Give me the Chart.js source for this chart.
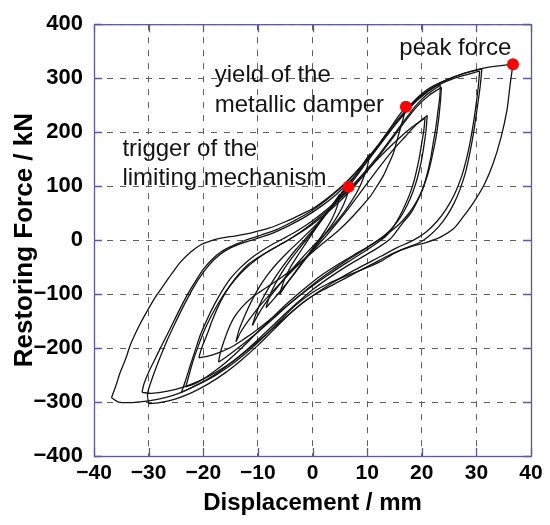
<!DOCTYPE html>
<html>
<head>
<meta charset="utf-8">
<script src="https://cdn.jsdelivr.net/npm/chart.js@4/dist/chart.umd.min.js"></script>
<style>
  html, body { margin: 0; padding: 0; background: #fff; }
  canvas { display: block; }
</style>
</head>
<body>
<canvas id="hyst" width="550" height="525"></canvas>
<script>
// Hysteresis loops, displacement (mm) vs restoring force (kN).
// Every loop is split at its reversal points: *_down = unloading from the + tip, *_up = reloading.
const A_down = [[36.7,326],[36.2,290],[35.6,241],[34.5,190],[33.1,143],[31.4,102],[29.5,70],[27.5,42],[25.8,21],[23.5,6],[20.9,-4],[18,-12],[15,-24],[12.4,-40],[9,-55],[6.3,-66],[3,-80],[0,-97],[-3,-120],[-6,-150],[-9,-180],[-12,-208],[-15,-232],[-18,-252],[-21,-268],[-24,-282],[-27,-292],[-30,-298],[-33,-301],[-35.5,-300],[-36.8,-292]];
const A_up = [[-36.8,-292],[-36,-270],[-35.2,-245],[-34.2,-220],[-33.3,-193],[-31.8,-160],[-30.3,-132],[-28.8,-106],[-27.2,-83],[-25.6,-60],[-24.1,-40],[-22.3,-22],[-20.5,-9],[-18.5,-1],[-16.5,4],[-14,8],[-11,14],[-8,22],[-5,34],[-2,48],[0,58],[3,80],[6,106],[9,138],[12,176],[14.5,210],[17,240],[19,262],[21.5,282],[24.5,297],[28,310],[32,320],[36.7,326]];

const B1_down = [[31,317],[30.7,285],[30.1,241],[29.5,200],[28.8,161],[28,125],[27,94],[25.9,68],[24.6,45],[23.1,25],[21.5,9],[19.7,-4],[17,-15],[14,-28],[11,-44],[8,-60],[5,-76],[2,-92],[-1,-110],[-4,-135],[-7,-165],[-10,-195],[-13,-222],[-16,-246],[-19,-266],[-22,-282],[-25,-294],[-28,-301],[-30,-303]];
const B1_up = [[-30,-303],[-30.2,-285],[-29.3,-255],[-28.2,-225],[-26.8,-190],[-25.2,-155],[-23.5,-120],[-21.8,-88],[-20,-60],[-18,-36],[-16,-20],[-13.5,-8],[-10.5,2],[-7.5,12],[-4.5,26],[-1.5,42],[1.5,62],[4.5,86],[7.5,116],[10.5,152],[13.5,192],[16,225],[18.5,255],[21,276],[24,294],[27.5,308],[31,317]];

const B2_down = [[30.6,313],[30.3,280],[29.8,240],[29.1,195],[28.3,155],[27.3,118],[26,85],[24.5,58],[22.8,35],[20.8,15],[18.5,0],[15.5,-14],[12.5,-30],[9.5,-46],[6.5,-62],[3.5,-80],[0.5,-100],[-2.5,-122],[-5.5,-148],[-8.5,-175],[-11.5,-200],[-14.5,-224],[-17.5,-244],[-20.5,-260],[-23.5,-272],[-26.5,-280],[-29.5,-284],[-31.2,-282]];
const B2_up = [[-31.2,-282],[-30.9,-268],[-30,-245],[-29,-224],[-27.5,-193],[-26,-163],[-24.5,-132],[-22.9,-101],[-21.4,-76],[-19.9,-53],[-18.3,-35],[-16.8,-22],[-15,-12],[-13.1,-4],[-11.3,3],[-9.5,9],[-6.5,20],[-3.5,35],[-0.5,52],[2.5,74],[5.5,100],[8.5,132],[11.5,168],[14.5,206],[17,236],[19.5,262],[22.5,284],[26,300],[30.6,313]];

const C1_down = [[23.4,287],[23.3,265],[23,241],[22.6,210],[22.1,180],[21.6,150],[20.9,119],[20.1,93],[19.1,70],[18,50],[16.6,33],[15.5,18],[14.2,2],[12,-14],[9,-32],[6,-50],[3,-70],[0,-92],[-3,-118],[-6,-146],[-9,-175],[-12,-203],[-15,-228],[-18,-250],[-20.5,-265],[-22.5,-275],[-24,-282]];
const C1_up = [[-24,-282],[-23.3,-262],[-22.3,-230],[-21.4,-202],[-20.5,-175],[-19.3,-147],[-18,-120],[-16.6,-95],[-15,-71],[-13.2,-51],[-11.3,-34],[-9.5,-21],[-7.7,-10],[-5.5,2],[-3,16],[0,36],[3,60],[6,88],[9,120],[12,156],[14.5,190],[17,224],[19,250],[21,270],[23.4,287]];

const C2_down = [[23.6,283],[23.4,255],[23.1,225],[22.6,190],[21.9,155],[21.2,125],[20.3,98],[19.2,74],[17.9,53],[16.4,35],[14.8,20],[13,6],[10.5,-10],[7.5,-28],[4.5,-46],[1.5,-66],[-1.5,-90],[-4.5,-116],[-7.5,-145],[-10.5,-175],[-13.5,-205],[-16.5,-232],[-19.5,-254],[-21.5,-266],[-23.2,-272]];
const C2_up = [[-23.2,-272],[-22.6,-250],[-21.8,-222],[-20.9,-196],[-19.9,-170],[-18.7,-144],[-17.3,-118],[-15.8,-94],[-14.1,-72],[-12.3,-53],[-10.4,-37],[-8.4,-23],[-6.2,-10],[-3.8,4],[-1,22],[2,45],[5,72],[8,104],[11,140],[14,180],[16.5,214],[19,246],[21.3,268],[23.6,283]];

const D1_down = [[20.6,226],[20.4,205],[20,180],[19.6,155],[19.1,131],[18.6,110],[17.9,88],[17,66],[16,45],[14.9,26],[13.6,9],[12,-4],[10,-18],[7.5,-34],[5,-50],[2.5,-67],[0,-85],[-2.5,-104],[-5,-125],[-7.5,-145],[-10,-165],[-12.5,-183],[-15,-199],[-17.5,-210],[-19.5,-216],[-20.8,-218]];
const D1_up = [[-20.8,-218],[-20.3,-200],[-19.3,-175],[-18.4,-150],[-17.4,-126],[-16.3,-104],[-15,-83],[-13.5,-63],[-11.9,-46],[-10.1,-33],[-8.3,-22],[-6.2,-10],[-4,3],[-1.5,20],[1,40],[3.5,62],[6,86],[8.5,112],[11,140],[13.5,166],[16,190],[18.3,210],[20.6,226]];

const D2_down = [[21,231],[20.8,205],[20.4,175],[19.9,145],[19.2,115],[18.4,90],[17.4,66],[16.2,44],[14.8,25],[13.2,9],[11.2,-6],[8.8,-22],[6.2,-38],[3.6,-56],[1,-75],[-1.6,-96],[-4.2,-118],[-6.8,-142],[-9.4,-165],[-12,-187],[-14.4,-206],[-16,-218],[-17.2,-226]];
const D2_up = [[-17.2,-226],[-16.9,-210],[-16.2,-187],[-15.4,-165],[-14.4,-144],[-13,-125],[-11.3,-108],[-9.5,-95],[-7.7,-83],[-5.5,-68],[-3,-48],[-0.5,-25],[2,2],[4.5,32],[7,64],[9.5,98],[12,132],[14.5,164],[17,192],[19,214],[21,231]];

const E_down = [[17.1,247],[16.6,225],[16,204],[15.4,182],[14.8,161],[13.9,140],[13,120],[11.8,100],[10.5,80],[8.8,60],[7,40],[5,20],[3,3],[0.5,-18],[-2,-40],[-4.5,-65],[-7,-92],[-9.5,-120],[-11.5,-146],[-13,-168],[-14,-188]];
const E_up = [[-14,-188],[-13.4,-165],[-12.4,-140],[-11.2,-114],[-9.8,-88],[-8.2,-64],[-6.4,-42],[-4.4,-21],[-2.2,0],[0.2,24],[2.5,48],[4.6,74],[6.6,99],[8.6,126],[10.6,154],[12.6,183],[14.4,210],[15.9,232],[17.1,247]];

const F_down = [[10.5,160],[10,135],[9.2,112],[8.2,90],[7,70],[5.5,48],[3.8,27],[2,8],[0,-12],[-2,-34],[-4,-57],[-6,-82],[-8,-108],[-9.6,-132],[-11,-158]];
const F_up = [[-11,-158],[-10.3,-135],[-9.3,-112],[-8,-88],[-6.5,-64],[-4.8,-40],[-3,-17],[-1,6],[1,30],[3,55],[5,82],[7,108],[8.8,134],[10.5,160]];

const G_down = [[7,110],[6.5,88],[5.7,66],[4.6,45],[3.3,25],[1.8,5],[0.2,-16],[-1.5,-38],[-3.3,-62],[-5.2,-86],[-7,-108],[-8.5,-125]];
const G_up = [[-8.5,-125],[-7.8,-102],[-6.7,-79],[-5.3,-55],[-3.7,-32],[-2,-10],[-0.2,13],[1.6,38],[3.4,62],[5.2,86],[7,110]];

const H_down = [[5,85],[4.5,62],[3.6,40],[2.4,19],[1,-2],[-0.6,-24],[-2.3,-47],[-4.1,-72],[-6,-100]];
const H_up = [[-6,-100],[-5.3,-77],[-4.2,-53],[-2.8,-30],[-1.3,-7],[0.3,17],[1.9,40],[3.5,63],[5,85]];

// marked events: trigger of limiting mechanism, damper yield, peak force
const markers = [[6.6,99],[17.1,247],[36.7,326]];
const markerLabels = [['trigger of the', 'limiting mechanism'], ['yield of the', 'metallic damper'], ['peak force']];

const xTicks = [-40, -30, -20, -10, 0, 10, 20, 30, 40];
const yTicks = [-400, -300, -200, -100, 0, 100, 200, 300, 400];

const branches = [A_down, A_up, B1_down, B1_up, B2_down, B2_up, C1_down, C1_up, C2_down, C2_up,
  D1_down, D1_up, D2_down, D2_up, E_down, E_up, F_down, F_up, G_down, G_up, H_down, H_up];

const toXY = (arr) => arr.map(([x, y]) => ({ x, y }));
const minus = (v) => String(v).replace('-', '\u2212');

const navy = '#5a5a9c';
const ink = '#141414';

// text blocks next to the red dots, anchored in data units (left edge, first baseline)
const labelPos = [
  { x: -34.8, y: 156, lineGap: 29 },
  { x: -17.9, y: 293, lineGap: 30 },
  { x: 15.9, y: 343, lineGap: 0 },
];

const frame = {
  id: 'frame',
  beforeDatasetsDraw(chart) {
    const { ctx, chartArea: a, scales } = chart;
    ctx.save();
    ctx.strokeStyle = navy;
    ctx.lineWidth = 1.3;
    ctx.beginPath();
    yTicks.forEach((v) => {
      const py = Math.round(scales.y.getPixelForValue(v)) + 0.5;
      ctx.moveTo(a.left, py); ctx.lineTo(a.left + 8, py);
      ctx.moveTo(a.right, py); ctx.lineTo(a.right - 8, py);
    });
    xTicks.forEach((v) => {
      const px = Math.round(scales.x.getPixelForValue(v)) + 0.5;
      ctx.moveTo(px, a.bottom); ctx.lineTo(px, a.bottom - 8);
      ctx.moveTo(px, a.top); ctx.lineTo(px, a.top + 8);
    });
    ctx.stroke();
    ctx.strokeRect(a.left + 0.5, a.top + 0.5, a.right - a.left, a.bottom - a.top);
    ctx.restore();
  },
  afterDraw(chart) {
    const { ctx, chartArea: a, scales } = chart;
    ctx.save();
    ctx.fillStyle = ink;
    // annotations
    ctx.font = '24px "Liberation Sans", Arial, sans-serif';
    ctx.textAlign = 'left';
    ctx.textBaseline = 'alphabetic';
    markerLabels.forEach((lines, i) => {
      const p = labelPos[i];
      const px = scales.x.getPixelForValue(p.x);
      const py = scales.y.getPixelForValue(p.y);
      lines.forEach((t, j) => ctx.fillText(t, px, py + j * p.lineGap));
    });
    // axis titles
    ctx.fillStyle = '#000';
    ctx.font = 'bold 24px "Liberation Sans", Arial, sans-serif';
    ctx.textAlign = 'center';
    ctx.fillText('Displacement / mm', (a.left + a.right) / 2, 510);
    ctx.font = 'bold 26px "Liberation Sans", Arial, sans-serif';
    ctx.translate(32, (a.top + a.bottom) / 2);
    ctx.rotate(-Math.PI / 2);
    ctx.fillText('Restoring Force / kN', 0, 0);
    ctx.restore();
  },
};

const datasets = [{
  data: toXY(markers),
  showLine: false,
  pointRadius: 6,
  pointBackgroundColor: '#ff0000',
  pointBorderWidth: 0,
  order: -1,
}].concat(branches.map((b) => ({
  data: toXY(b),
  showLine: true,
  borderColor: ink,
  borderWidth: 1.3,
  tension: 0.3,
  pointRadius: 0,
  fill: false,
})));

new Chart(document.getElementById('hyst'), {
  type: 'scatter',
  data: { datasets },
  options: {
    responsive: false,
    animation: false,
    devicePixelRatio: 1,
    layout: { padding: { top: 20, right: 19, left: 0, bottom: 0 } },
    plugins: { legend: { display: false }, tooltip: { enabled: false } },
    scales: {
      x: {
        min: -40, max: 40,
        afterFit: (s) => { s.height = 69; },
        afterBuildTicks: (s) => { s.ticks = xTicks.map((v) => ({ value: v })); },
        ticks: {
          padding: 5,
          color: '#000',
          font: { family: '"Liberation Sans", Arial, sans-serif', size: 21, weight: 'bold' },
          callback: minus,
          maxRotation: 0,
        },
        grid: { color: '#5e5e5e', lineWidth: 1, drawTicks: false },
        border: { display: false, dash: [6, 7] },
      },
      y: {
        min: -400, max: 400,
        afterFit: (s) => { s.width = 94; },
        afterBuildTicks: (s) => { s.ticks = yTicks.map((v) => ({ value: v })); },
        ticks: {
          padding: 11,
          color: '#000',
          font: { family: '"Liberation Sans", Arial, sans-serif', size: 22, weight: 'bold' },
          callback: minus,
        },
        grid: { color: '#5e5e5e', lineWidth: 1, drawTicks: false },
        border: { display: false, dash: [6, 7] },
      },
    },
  },
  plugins: [frame],
});
</script>
</body>
</html>
